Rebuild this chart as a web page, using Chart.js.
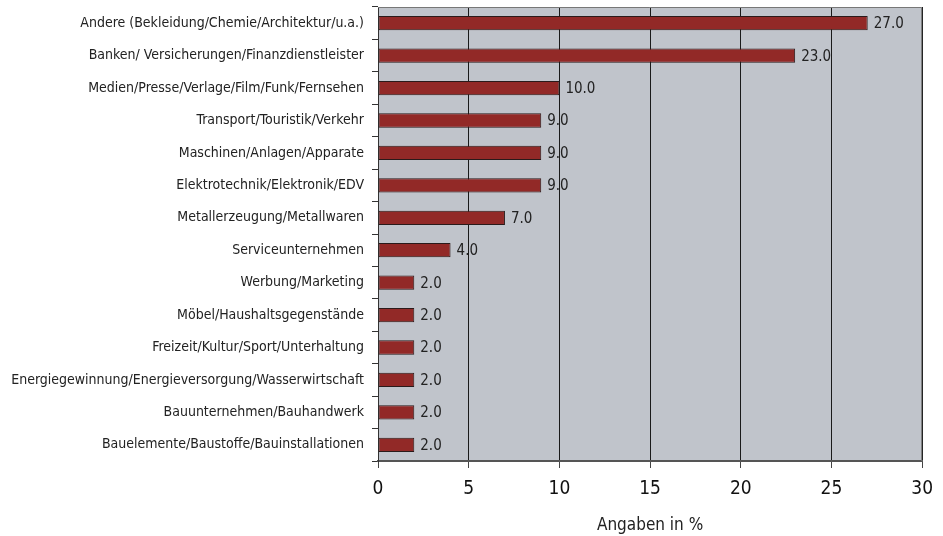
<!DOCTYPE html>
<html>
<head>
<meta charset="utf-8">
<script src="https://cdn.jsdelivr.net/npm/chart.js@4"></script>
<style>
  html, body { margin: 0; padding: 0; background: #fff; }
  #wrap { width: 943px; height: 536px; }
</style>
</head>
<body>
<div id="wrap"><canvas id="chart"></canvas></div>
<script>
const branchen = [
    "Andere (Bekleidung/Chemie/Architektur/u.a.)",
    "Banken/ Versicherungen/Finanzdienstleister",
    "Medien/Presse/Verlage/Film/Funk/Fernsehen",
    "Transport/Touristik/Verkehr",
    "Maschinen/Anlagen/Apparate",
    "Elektrotechnik/Elektronik/EDV",
    "Metallerzeugung/Metallwaren",
    "Serviceunternehmen",
    "Werbung/Marketing",
    "Möbel/Haushaltsgegenstände",
    "Freizeit/Kultur/Sport/Unterhaltung",
    "Energiegewinnung/Energieversorgung/Wasserwirtschaft",
    "Bauunternehmen/Bauhandwerk",
    "Bauelemente/Baustoffe/Bauinstallationen",
];
const anteile = [27, 23, 10, 9, 9, 9, 7, 4, 2, 2, 2, 2, 2, 2];
const xTicks = [0, 5, 10, 15, 20, 25, 30];
const xTitle = "Angaben in %";

const FONT = "'DejaVu Sans Condensed', 'Liberation Sans Narrow', sans-serif";

// gray plot background + top/right frame
const plotBg = {
    id: "plotBg",
    beforeDraw(chart) {
        const { ctx, chartArea: a } = chart;
        ctx.save();
        ctx.fillStyle = "#c0c4cb";
        ctx.fillRect(a.left, a.top, a.right - a.left, a.bottom - a.top);
        ctx.restore();
    },
    afterDatasetsDraw(chart) {
        const { ctx, chartArea: a } = chart;
        ctx.save();
        ctx.strokeStyle = "#777";
        ctx.lineWidth = 1;
        ctx.beginPath();
        ctx.moveTo(a.left, a.top + 0.5);
        ctx.lineTo(a.right - 0.5, a.top + 0.5);
        ctx.lineTo(a.right - 0.5, a.bottom);
        ctx.stroke();
        ctx.restore();
    },
};

// values next to the bars
const valueLabels = {
    id: "valueLabels",
    afterDatasetsDraw(chart) {
        const { ctx } = chart;
        const meta = chart.getDatasetMeta(0);
        ctx.save();
        ctx.font = "15px " + FONT;
        ctx.fillStyle = "#222";
        ctx.textBaseline = "middle";
        meta.data.forEach((bar, i) => {
            ctx.fillText(anteile[i].toFixed(1), bar.x + 6, bar.y + 1);
        });
        ctx.restore();
    },
};

new Chart(document.getElementById("chart"), {
    type: "bar",
    data: {
        labels: branchen,
        datasets: [{
            data: anteile,
            backgroundColor: "#922927",
            borderColor: "#2a1a1a",
            borderWidth: 1,
            borderSkipped: false,
            barPercentage: 0.44,
            categoryPercentage: 1,
        }],
    },
    options: {
        indexAxis: "y",
        responsive: true,
        maintainAspectRatio: false,
        animation: false,
        layout: { padding: { top: 7, right: 20, left: 0, bottom: 0 } },
        plugins: {
            legend: { display: false },
            tooltip: { enabled: false },
        },
        scales: {
            x: {
                min: 0,
                max: 30,
                afterBuildTicks: (s) => { s.ticks = xTicks.map((v) => ({ value: v })); },
                afterFit: (s) => { s.height = 75; },
                grid: {
                    color: "#1a1a1a",
                    lineWidth: 1,
                    drawTicks: true,
                    tickLength: 7,
                    tickColor: "#444",
                },
                border: { display: true, color: "#555", width: 2 },
                ticks: {
                    font: { family: FONT, size: 19 },
                    color: "#111",
                    padding: 10,
                },
                title: {
                    display: true,
                    text: xTitle,
                    font: { family: FONT, size: 17 },
                    color: "#222",
                    padding: { top: 6, bottom: 0 },
                },
            },
            y: {
                afterFit: (s) => {
                    s.width = 378;
                    s.paddingTop = 0;
                    s.paddingBottom = 0;
                },
                grid: {
                    drawOnChartArea: false,
                    drawTicks: true,
                    tickLength: 6,
                    tickColor: "#333",
                    offset: true,
                },
                border: { display: true, color: "#333", width: 1 },
                ticks: {
                    font: { family: FONT, size: 14 },
                    color: "#222",
                    padding: 8,
                    autoSkip: false,
                },
            },
        },
    },
    plugins: [plotBg, valueLabels],
});
</script>
</body>
</html>
